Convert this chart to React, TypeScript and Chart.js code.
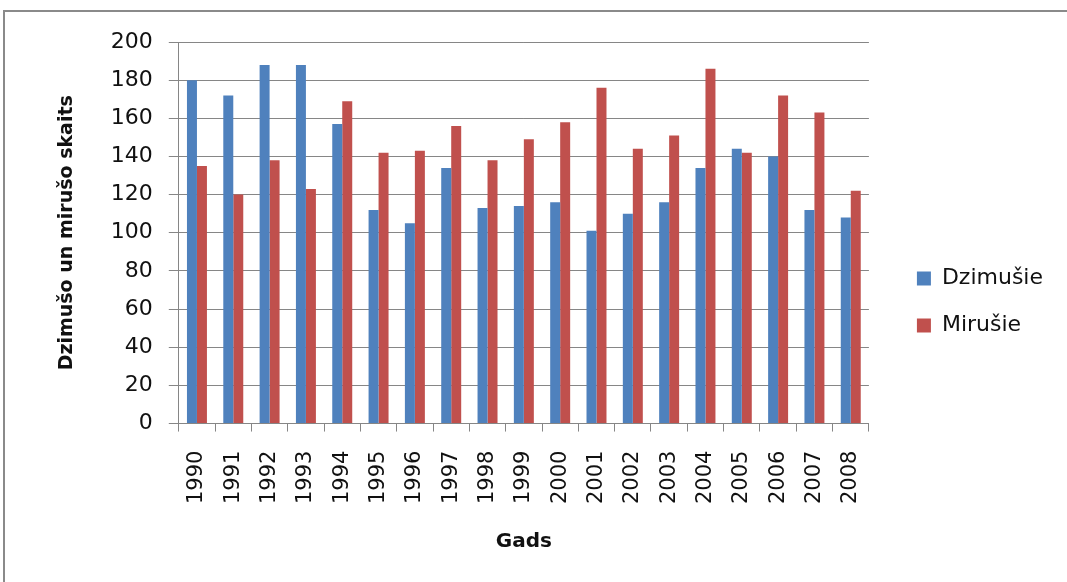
import React, { useEffect, useRef } from "react";
import { Chart, registerables } from "chart.js";

Chart.register(...registerables);

const years = ["1990", "1991", "1992", "1993", "1994", "1995", "1996", "1997", "1998", "1999", "2000", "2001", "2002", "2003", "2004", "2005", "2006", "2007", "2008"];
const born = [180, 172, 188, 188, 157, 112, 105, 134, 113, 114, 116, 101, 110, 116, 134, 144, 140, 112, 108];
const died = [135, 120, 138, 123, 169, 142, 143, 156, 138, 149, 158, 176, 144, 151, 186, 142, 172, 163, 122];
const seriesNames = ["Dzimušie", "Mirušie"];
const yMin = 0;
const yMax = 200;
const yStep = 20;

const FONT = "'DejaVu Sans', sans-serif";
const GRID = "#868686";
const TEXT = "#111111";

export default function App() {
  const ref = useRef<HTMLCanvasElement | null>(null);

  useEffect(() => {
    if (!ref.current) return;
    const chart = new Chart(ref.current, {
      type: "bar",
      data: {
        labels: years,
        datasets: [
          { label: seriesNames[0], data: born, backgroundColor: "#4F81BD", borderWidth: 0 },
          { label: seriesNames[1], data: died, backgroundColor: "#C0504D", borderWidth: 0 },
        ],
      },
      options: {
        animation: false,
        responsive: false,
        layout: { padding: { left: 52, top: 42, right: 14, bottom: 20 } },
        datasets: { bar: { categoryPercentage: 0.55, barPercentage: 1 } },
        plugins: {
          legend: {
            position: "right",
            labels: {
              boxWidth: 14,
              boxHeight: 14,
              padding: 25,
              color: TEXT,
              font: { family: FONT, size: 22 },
            },
          },
          tooltip: { enabled: false },
        },
        scales: {
          x: {
            offset: true,
            grid: { display: true, drawOnChartArea: false, offset: true, tickLength: 8, color: GRID },
            border: { display: true, color: GRID, width: 1 },
            ticks: { color: TEXT, font: { family: FONT, size: 21 }, minRotation: 90, maxRotation: 90, padding: 19, autoSkip: false },
            title: { display: true, text: "Gads", color: TEXT, font: { family: FONT, size: 20, weight: "bold" }, padding: { top: 7, bottom: 8 } },
          },
          y: {
            min: yMin,
            max: yMax,
            grid: { color: GRID, tickLength: 10 },
            border: { display: true, color: GRID, width: 1 },
            ticks: { stepSize: yStep, color: TEXT, font: { family: FONT, size: 22 }, padding: 16 },
            title: { display: true, text: "Dzimušo un mirušo skaits", color: TEXT, font: { family: FONT, size: 19, weight: "bold" }, padding: { top: 4, bottom: 16 } },
          },
          spacer: {
            type: "linear",
            position: "right",
            display: true,
            grid: { display: false },
            ticks: { display: false },
            border: { display: false },
            afterFit: (s: any) => { s.width = 23; },
          },
        },
      },
    } as any);
    return () => chart.destroy();
  }, []);

  return (
    <div style={{ position: "fixed", left: 0, top: 0, width: 1067, height: 582, background: "#fff", overflow: "hidden" }}>
      <div style={{ position: "absolute", left: 3, top: 10, width: 1100, height: 600, borderLeft: "2px solid #8a8a8a", borderTop: "2px solid #8a8a8a" }} />
      <canvas ref={ref} width={1067} height={582} style={{ position: "absolute", left: 0, top: 0 }} />
    </div>
  );
}
